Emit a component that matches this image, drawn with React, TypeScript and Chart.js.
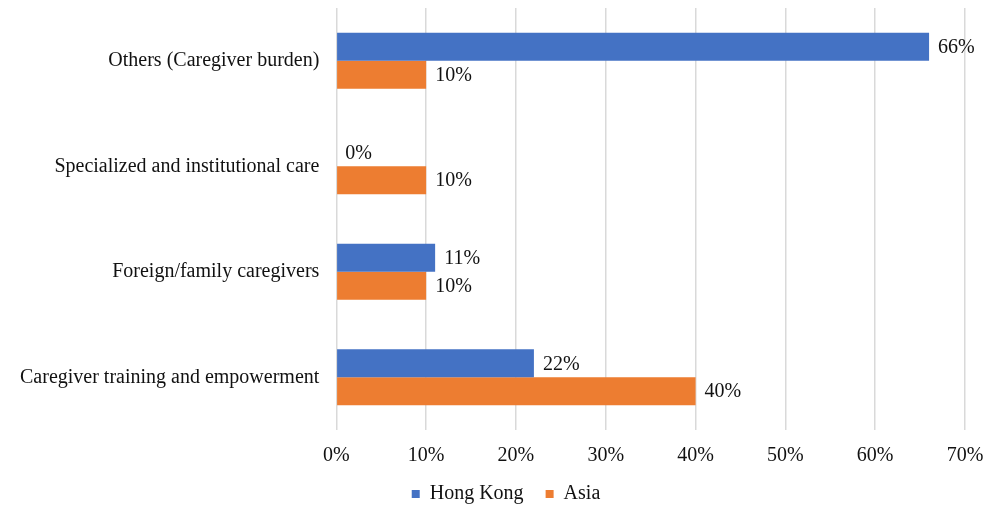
import React, { useEffect, useRef } from "react";
import { Chart, registerables } from "chart.js";

Chart.register(...registerables);

const categories = [
  "Others (Caregiver burden)",
  "Specialized and institutional care",
  "Foreign/family caregivers",
  "Caregiver training and empowerment",
];
const hongKong = [66, 0, 11, 22];
const asia = [10, 10, 10, 40];
const xTicks = [0, 10, 20, 30, 40, 50, 60, 70];

const FONT = "'Liberation Serif', 'Times New Roman', serif";
const SIZE = 20;

const valueLabels = {
  id: "valueLabels",
  afterDatasetsDraw(chart: any) {
    const ctx = chart.ctx;
    ctx.save();
    ctx.font = `${SIZE}px ${FONT}`;
    ctx.fillStyle = "#111";
    ctx.textBaseline = "middle";
    ctx.textAlign = "left";
    chart.data.datasets.forEach((ds: any, di: number) => {
      const meta = chart.getDatasetMeta(di);
      meta.data.forEach((el: any, i: number) => {
        ctx.fillText(`${ds.data[i]}%`, el.x + 9, el.y + 1);
      });
    });
    ctx.restore();
  },
};

const legendFit = {
  id: "legendFit",
  beforeInit(chart: any) {
    const lg = chart.legend;
    if (!lg) return;
    const orig = lg.fit;
    lg.fit = function () {
      orig.call(this);
      this.height = 38;
    };
  },
  afterLayout(chart: any) {
    const lg = chart.legend;
    if (!lg) return;
    lg.top -= 5;
    lg.left += 8;
    lg.right += 8;
  },
};

export default function App() {
  const ref = useRef<HTMLCanvasElement>(null);
  useEffect(() => {
    document.body.style.margin = "0";
    const chart = new Chart(ref.current!, {
      type: "bar",
      data: {
        labels: categories,
        datasets: [
          { label: "Hong Kong", data: hongKong, backgroundColor: "#4472c4", categoryPercentage: 0.53, barPercentage: 1 },
          { label: "Asia", data: asia, backgroundColor: "#ed7d31", categoryPercentage: 0.53, barPercentage: 1 },
        ],
      },
      options: {
        indexAxis: "y",
        animation: false,
        responsive: false,
        layout: { padding: { left: 3, right: 0, top: 8, bottom: 0 } },
        plugins: {
          legend: {
            position: "bottom",
            labels: {
              boxWidth: 8,
              boxHeight: 8,
              padding: 22,
              color: "#111",
              font: { family: FONT, size: SIZE },
            },
          },
          tooltip: { enabled: false },
        },
        scales: {
          x: {
            min: 0,
            max: 70,
            afterBuildTicks: (axis: any) => {
              axis.ticks = xTicks.map((v) => ({ value: v }));
            },
            afterFit: (scale: any) => {
              scale.height = 37;
              scale.paddingRight = 28;
            },
            grid: { color: "#d9d9d9", lineWidth: 1.5, drawTicks: false },
            border: { display: false },
            ticks: {
              padding: 14,
              color: "#111",
              font: { family: FONT, size: SIZE },
              callback: (v: any) => `${v}%`,
            },
          },
          y: {
            afterFit: (scale: any) => {
              scale.paddingTop = 0;
              scale.paddingBottom = 0;
            },
            grid: { display: false, drawTicks: false },
            border: { display: false },
            ticks: {
              padding: 17,
              color: "#111",
              font: { family: FONT, size: SIZE },
            },
          },
        },
      },
      plugins: [valueLabels, legendFit],
    });
    return () => chart.destroy();
  }, []);
  return (
    <div style={{ width: 993, height: 505, background: "#fff" }}>
      <canvas ref={ref} width={993} height={505} style={{ display: "block" }} />
    </div>
  );
}
